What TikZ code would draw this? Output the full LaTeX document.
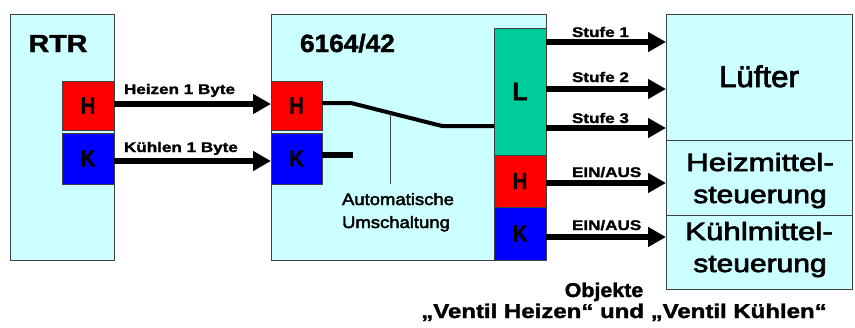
\documentclass[tikz,border=0pt]{standalone}
\usepackage{fontspec}
\setmainfont{Liberation Sans}[BoldFeatures={FakeBold=1.5}]
\newfontfamily\medfont{Liberation Sans}[FakeBold=2.5]
\usepackage{graphicx}
\usetikzlibrary{arrows.meta}
\definecolor{lcyan}{HTML}{CCFFFF}
\definecolor{lgreen}{HTML}{00CC99}
\definecolor{bord}{HTML}{404040}
\newcommand{\sx}[2]{\scalebox{#1}[1]{#2}}
\tikzset{
  every node/.style={inner sep=0pt, outer sep=0pt},
  panel/.style={draw=bord, fill=lcyan, line width=1pt, anchor=north west},
  obj/.style={draw=bord, line width=1pt, anchor=north west, font=\fontsize{23}{23}\selectfont\bfseries},
  objH/.style={obj, fill=red},
  objK/.style={obj, fill=blue},
  objL/.style={obj, fill=lgreen, font=\fontsize{25}{25}\selectfont\bfseries},
  arr/.style={line width=6pt, -{Triangle[length=18pt,width=19pt]}},
  lbl/.style={font=\fontsize{14}{14}\selectfont\bfseries, anchor=base west},
  bigtxt/.style={font=\fontsize{25}{25}\selectfont\medfont, anchor=base},
  smalltxt/.style={font=\fontsize{16.5}{16.5}\selectfont\medfont, anchor=base},
  captxt/.style={font=\fontsize{20}{20}\selectfont\bfseries, anchor=base},
}
\begin{document}
\begin{tikzpicture}[x=1pt,y=-1pt]
\useasboundingbox (0,0) rectangle (855,327);
% panels
\node[panel, minimum width=104pt, minimum height=246pt] (rtr) at (10,14) {};
\node[panel, minimum width=275pt, minimum height=246pt] (mid) at (271,14) {};
\node[panel, minimum width=186pt, minimum height=126pt] (luefter) at (666,14) {};
\node[panel, minimum width=186pt, minimum height=75pt] (heiz) at (666,140) {};
\node[panel, minimum width=186pt, minimum height=74pt] (kuehl) at (666,215) {};
% objects
\node[objH, minimum width=52pt, minimum height=49pt] (rH) at (62,81) {\sx{0.88}{H}};
\node[objK, minimum width=52pt, minimum height=51pt] (rK) at (62,133) {\sx{0.88}{K}};
\node[objH, minimum width=51pt, minimum height=49pt] (mH) at (271,81) {\sx{0.88}{H}};
\node[objK, minimum width=51pt, minimum height=51pt] (mK) at (271,133) {\sx{0.88}{K}};
\node[objL, minimum width=52pt, minimum height=127pt] (L) at (494,28) {L};
\node[objH, minimum width=52pt, minimum height=52pt] (LH) at (494,155) {\sx{0.88}{H}};
\node[objK, minimum width=52pt, minimum height=53pt] (LK) at (494,207) {\sx{0.88}{K}};
% titles
\node[bigtxt, font=\fontsize{24.7}{25}\selectfont\bfseries] (rtrt) at (58,52) {\sx{1.16}{RTR}};
\node[bigtxt, font=\fontsize{25}{25}\selectfont\bfseries, anchor=base west] (typ) at (300,52) {\sx{1.05}{6164/42}};
\node[bigtxt, font=\fontsize{30}{30}\selectfont\medfont] (lt) at (759,87) {\sx{1.04}{Lüfter}};
\node[bigtxt] (h1) at (760,171) {\sx{1.25}{Heizmittel-}};
\node[bigtxt] (h2) at (760,203) {\sx{1.2}{steuerung}};
\node[bigtxt] (k1) at (759,240) {\sx{1.25}{Kühlmittel-}};
\node[bigtxt] (k2) at (760,272) {\sx{1.2}{steuerung}};
\node[smalltxt] (auto1) at (398,205) {\sx{1.12}{Automatische}};
\node[smalltxt] (auto2) at (396,228) {\sx{1.12}{Umschaltung}};
\node[captxt] (cap1) at (604,297) {\sx{1.07}{Objekte}};
\node[captxt] (cap2) at (624,318) {\sx{1.2}{„Ventil Heizen“ und „Ventil Kühlen“}};
% labels
\node[lbl] (lh) at (124,94) {\sx{1.22}{Heizen 1 Byte}};
\node[lbl] (lk) at (124,152) {\sx{1.22}{Kühlen 1 Byte}};
\node[lbl] (ls1) at (572,37) {\sx{1.22}{Stufe 1}};
\node[lbl] (ls2) at (572,82) {\sx{1.22}{Stufe 2}};
\node[lbl] (ls3) at (572,123) {\sx{1.22}{Stufe 3}};
\node[lbl] (le1) at (572,177) {\sx{1.22}{EIN/AUS}};
\node[lbl] (le2) at (572,230) {\sx{1.22}{EIN/AUS}};
% level coordinates
\coordinate (yh) at (0,104);
\coordinate (yk) at (0,161);
\coordinate (ys1) at (0,42);
\coordinate (ys2) at (0,89);
\coordinate (ys3) at (0,128);
\coordinate (ye1) at (0,183);
\coordinate (ye2) at (0,237);
\coordinate (sw0) at (0,103);
\coordinate (sw1) at (351,103);
\coordinate (sw2) at (442,126);
\coordinate (ks) at (353,155);
\coordinate (ksy) at (0,155);
\coordinate (v1) at (390,113);
\coordinate (v2) at (390,184);
% connectors
\draw[arr] (rH.east |- yh) -- (mH.west |- yh);
\draw[arr] (rK.east |- yk) -- (mK.west |- yk);
\draw[line width=4pt] (mH.east |- sw0) -- (sw1) -- (sw2) -- (L.west |- sw2);
\draw[line width=6pt] (mK.east |- ksy) -- (ks);
\draw[line width=1pt, bord] (v1) -- (v2);
\draw[arr] (L.east |- ys1) -- (luefter.west |- ys1);
\draw[arr] (L.east |- ys2) -- (luefter.west |- ys2);
\draw[arr] (L.east |- ys3) -- (luefter.west |- ys3);
\draw[arr] (LH.east |- ye1) -- (heiz.west |- ye1);
\draw[arr] (LK.east |- ye2) -- (kuehl.west |- ye2);
\end{tikzpicture}
\end{document}
